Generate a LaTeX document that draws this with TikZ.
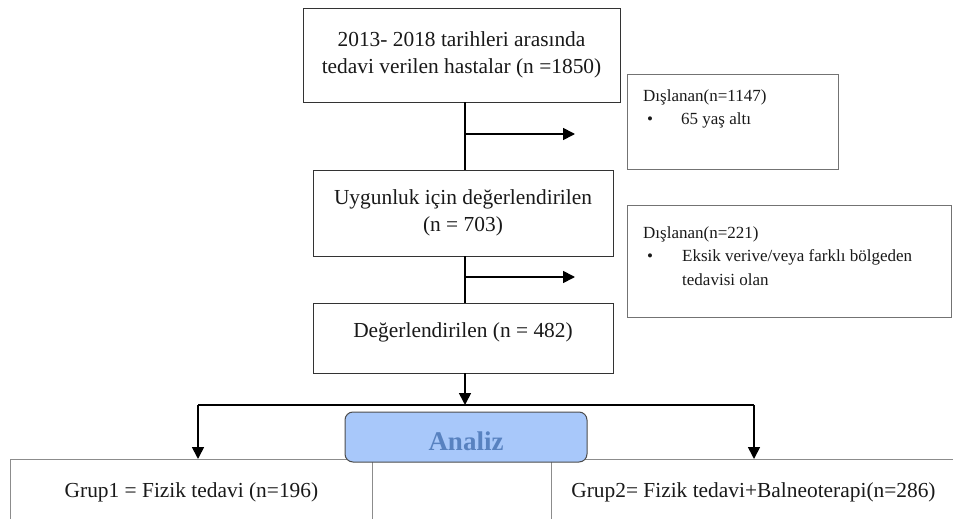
\documentclass[tikz,border=0pt]{standalone}
\usepackage{fontspec}
\setmainfont{Liberation Serif}
\usetikzlibrary{arrows.meta,positioning}
\definecolor{analizfill}{RGB}{168,200,250}
\definecolor{analiztext}{RGB}{88,130,192}
\tikzset{
  mainbox/.style={draw=black!80, line width=0.9pt, align=center, inner sep=0pt,
    text=black!90, font=\fontsize{21.4}{27.5}\selectfont},
  exbox/.style={draw=black!55, line width=1.3pt, anchor=north west, inner sep=0pt},
  extext/.style={anchor=north west, align=left, inner sep=0pt, text=black!90,
    font=\fontsize{17}{23.5}\selectfont},
  grupbox/.style={draw=black!45, line width=0.9pt, anchor=north west, inner sep=0pt,
    text=black!90, font=\fontsize{21.4}{27.5}\selectfont},
  flow/.style={line width=2pt},
  flowarrow/.style={line width=1.7pt, -{Triangle[length=12pt,width=12pt]}},
}
\begin{document}
\begin{tikzpicture}[x=1pt,y=-1pt]
\useasboundingbox (0,0) rectangle (953,519);
\clip (0,0) rectangle (953,519);
% main column
\node[mainbox, minimum width=317, minimum height=94] (total) at (461.5,55)
  {2013- 2018 tarihleri arasında\\tedavi verilen hastalar (n =1850)};
\node[mainbox, minimum width=300, minimum height=86] (eligible) at (463,213)
  {Uygunluk için değerlendirilen\\(n = 703)};
\node[mainbox, minimum width=300, minimum height=70, text depth=16pt] (assessed) at (463,338)
  {Değerlendirilen (n = 482)};
% excluded boxes
\node[exbox, minimum width=211, minimum height=95] (ex1) at (627,74) {};
\node[extext] (ex1text) at ([xshift=16pt,yshift=-15.5pt]ex1.north west)
  {Dışlanan(n=1147)\\\hspace*{4pt}\makebox[34pt][l]{\textbullet}65 yaş altı};
\node[exbox, minimum width=324, minimum height=112] (ex2) at (627,205) {};
\node[extext] (ex2text) at ([xshift=16pt,yshift=-21.5pt]ex2.north west)
  {Dışlanan(n=221)\\\hspace*{4pt}\makebox[35pt][l]{\textbullet}Eksik verive/veya farklı bölgeden\\\hspace*{39pt}tedavisi olan};
% groups
\node[grupbox, minimum width=362, minimum height=66] (grup1) at (10,459)
  {Grup1 = Fizik tedavi (n=196)};
\node[grupbox, minimum width=404, minimum height=66] (grup2) at (551,459)
  {Grup2= Fizik tedavi+Balneoterapi(n=286)};
% connectors
\coordinate (spine) at (465,0);
\coordinate (ex1arr) at (575,134);
\coordinate (ex2arr) at (575,277);
\coordinate (splitL) at (198,405);
\coordinate (splitR) at (754,405);
\draw[flow] (total.south -| spine) -- (eligible.north -| spine);
\draw[flow] (eligible.south -| spine) -- (assessed.north -| spine);
\draw[flowarrow] (spine |- ex1arr) -- (ex1arr);
\draw[flowarrow] (spine |- ex2arr) -- (ex2arr);
\draw[flowarrow] (assessed.south -| spine) -- (spine |- splitL);
\draw[flow] (splitL) -- (splitR);
\draw[line width=2.6pt] (390,405) -- (505,405);
\draw[flowarrow] (splitL) -- (splitL |- grup1.north);
\draw[flowarrow] (splitR) -- (splitR |- grup2.north);
% analysis label
\node[draw=black!70, line width=1pt, fill=analizfill, rounded corners=8pt,
  minimum width=242, minimum height=50, text height=26pt, text depth=0pt, inner sep=0pt,
  text=analiztext, font=\fontsize{27}{30}\selectfont\bfseries] (analiz) at (466,437) {Analiz};
\end{tikzpicture}
\end{document}
